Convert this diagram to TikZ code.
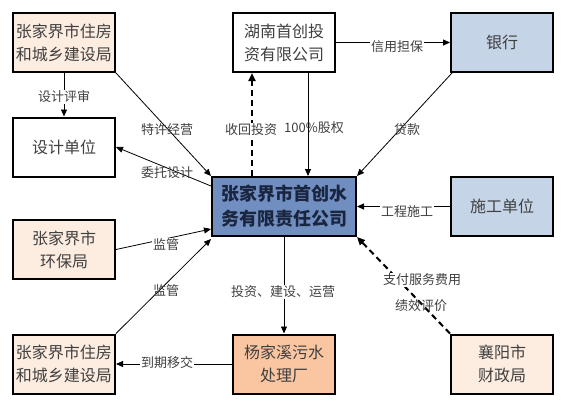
\documentclass[tikz,border=0pt]{standalone}
\usepackage{fontspec}
\setmainfont{Noto Sans CJK SC}
\newfontfamily\cjk{Noto Sans CJK SC}
\usetikzlibrary{arrows.meta,calc}
\definecolor{peach}{HTML}{FDECE0}
\definecolor{lblue}{HTML}{C6D4E8}
\definecolor{mblue}{HTML}{718EC0}
\definecolor{orng}{HTML}{FAC6A2}
\definecolor{txtgray}{HTML}{404040}
\definecolor{navy}{HTML}{1A2540}
\tikzset{
  box/.style={draw=black,line width=2pt,minimum width=102pt,minimum height=59pt,
    align=center,inner sep=0pt,font=\cjk\fontsize{16}{23}\selectfont,text=txtgray},
  mainbox/.style={box,minimum width=144pt,text=navy,font=\cjk\bfseries\fontsize{18}{25}\selectfont},
  conn/.style={draw=black,line width=0.8pt,-{Triangle[length=7pt,width=6pt]}},
  dconn/.style={draw=black,line width=2pt,dash pattern=on 6pt off 4pt,-{Triangle[length=8pt,width=7pt]}},
  lbl/.style={font=\cjk\fontsize{13}{15}\selectfont,text=txtgray,fill=white,inner sep=1pt}
}
\begin{document}
\begin{tikzpicture}[x=1pt,y=-1pt]
\useasboundingbox (0,0) rectangle (565,408);
\fill[white] (0,0) rectangle (565,408);
% boxes
\node[box,fill=peach] (zj1) at (64,42.5) {张家界市住房\\和城乡建设局};
\node[box,fill=white] (hn) at (284,42.5) {湖南首创投\\资有限公司};
\node[box,fill=lblue] (bank) at (502,42.5) {银行};
\node[box,fill=white] (sj) at (64,147) {设计单位};
\node[mainbox,fill=mblue] (co) at (284,206.5) {张家界市首创水\\务有限责任公司};
\node[box,fill=lblue] (sg) at (502,206.5) {施工单位};
\node[box,fill=peach] (hb) at (64,249.5) {张家界市\\环保局};
\node[box,fill=peach] (zj2) at (64,364) {张家界市住房\\和城乡建设局};
\node[box,fill=orng] (ws) at (284,364) {杨家溪污水\\处理厂};
\node[box,fill=peach] (cz) at (502,364) {襄阳市\\财政局};
% connectors
\draw[conn] (zj1.south) -- (sj.north);
\draw[conn] (zj1.south east) -- (co.north west);
\draw[conn] ([yshift=-10pt]co.north west) -- (sj.east);
\draw[dconn] ([xshift=-32pt]co.north) -- ([xshift=-32pt]hn.south);
\draw[conn] ([xshift=24pt]hn.south) -- ([xshift=24pt]co.north);
\draw[conn] (hn.east) -- (bank.west);
\draw[conn] ([xshift=2pt]bank.south west) -- (co.north east);
\draw[conn] (sg.west) -- (co.east);
\draw[dconn] (cz.north west) -- (co.south east);
\draw[conn] (hb.east) -- ([yshift=8pt]co.south west);
\draw[conn] (zj2.north east) -- ([yshift=-2pt]co.south west);
\draw[conn] (co.south) -- (ws.north);
\draw[conn] (ws.west) -- (zj2.east);
% labels
\node[lbl] (l1) at (64,97) {设计评审};
\node[lbl,fill=none] (l2) at (167,130) {特许经营};
\node[lbl,fill=none] (l3) at (167,173) {委托设计};
\node[lbl] (l4) at (251,130) {收回投资};
\node[lbl,fill=none] (l5) at (314,128) {100\%股权};
\node[lbl] (l6) at (397,47) {信用担保};
\node[lbl,fill=none] (l7) at (407,130) {贷款};
\node[lbl] (l8) at (407,212) {工程施工};
\node[lbl] (l9) at (422,280) {支付服务费用};
\node[lbl,fill=none] (l10) at (421,306) {绩效评价};
\node[lbl] (l11) at (166,245) {监管};
\node[lbl,fill=none] (l12) at (166,291) {监管};
\node[lbl] (l13) at (283,292) {投资、建设、运营};
\node[lbl] (l14) at (167,363) {到期移交};
\end{tikzpicture}
\end{document}
